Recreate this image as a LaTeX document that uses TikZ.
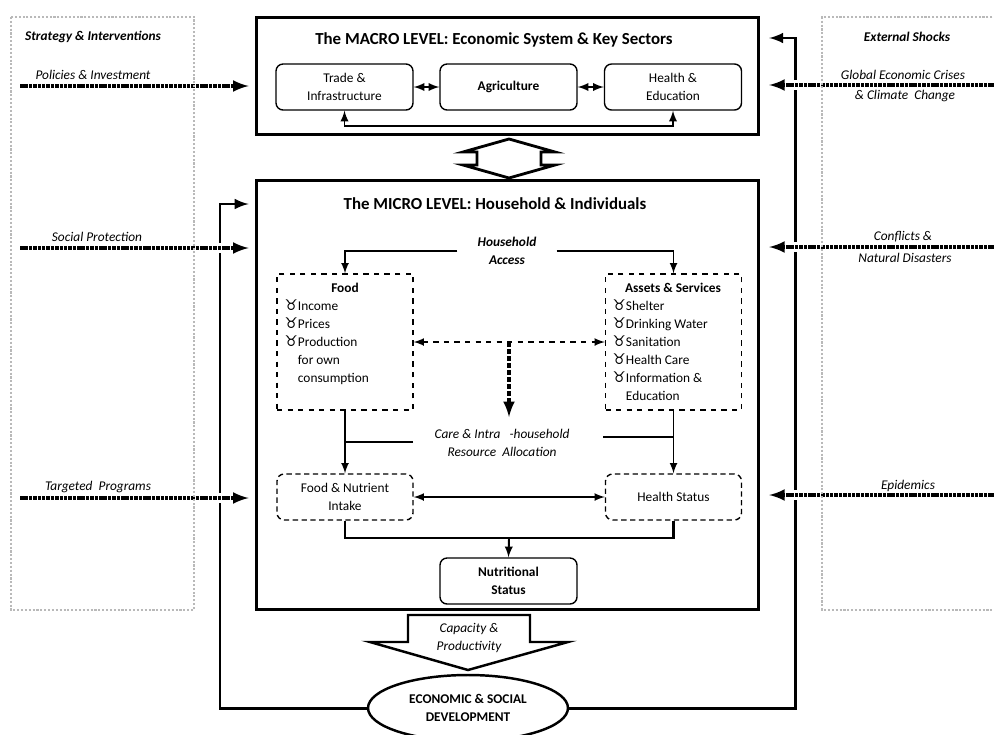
\documentclass[tikz,border=0pt]{standalone}
\usepackage{fontspec}
\setmainfont{Carlito}
\newfontfamily\symfont{DejaVu Sans}
\usepackage{tikz}
\usetikzlibrary{arrows, positioning, calc, shapes}
\newcommand{\titlefont}{\fontsize{9.6}{11}\selectfont\bfseries}
\newcommand{\bodyfont}{\fontsize{7.6}{10.2}\selectfont}
\newcommand{\labelfont}{\fontsize{7.6}{10.6}\selectfont\itshape}
\newcommand{\taurbul}{{\symfont\fontsize{8.4}{10.2}\selectfont\char"2649}}
\tikzstyle{levelbox} = [draw, line width=1.7pt, minimum width=10.06cm]
\tikzstyle{sector} = [draw, rounded corners=4pt, minimum width=2.74cm, minimum height=0.92cm, align=center, font=\bodyfont]
\tikzstyle{listbox} = [draw, dashed, minimum width=2.72cm, minimum height=2.72cm]
\tikzstyle{outcome} = [draw, densely dashed, rounded corners=4pt, minimum width=2.72cm, minimum height=0.92cm, align=center, font=\bodyfont]
\tikzstyle{policy} = [line width=2pt, dash pattern=on 2pt off 0.5pt, preaction={draw=white, line width=6pt, -, solid}]
\tikzstyle{lbl} = [font=\labelfont, inner sep=1pt]
\tikzstyle{panel} = [draw=gray!55, line width=1.2pt, densely dotted]

\begin{document}
\begin{tikzpicture}[x=0.02cm, y=-0.02cm, >=latex, thick]

    \useasboundingbox (0,0) rectangle (994,734);
    \fill [white] (0,0) rectangle (994,734);

    % The macro level
    \node (macro) [levelbox, minimum height=2.36cm] at (507.5,76) {};
    \node (macrotitle) [font=\titlefont] at (494,40) {The MACRO LEVEL: Economic System \& Key Sectors};
    \node (trade) [sector] at (344.5,87) {Trade \&\\Infrastructure};
    \node (agri) [sector] at (508.5,87) {\textbf{Agriculture}};
    \node (health) [sector] at (673,87) {Health \&\\Education};
    \coordinate (mbend) at (509,126);
    \draw [<->, line width=1.1pt] (trade) -- (agri);
    \draw [<->, line width=1.1pt] (agri) -- (health);
    \draw [<->, line width=1.1pt] (trade.south) |- (mbend) -| (health.south);

    % Link between the two levels
    \draw [line width=1.6pt, line join=miter] (509,139) -- (555,152) -- (541,152) -- (541,165) -- (555,165)
        -- (509,178) -- (463,165) -- (477,165) -- (477,152) -- (463,152) -- cycle;

    % The micro level
    \node (micro) [levelbox, minimum height=8.6cm] at (507.5,395) {};
    \node (microtitle) [font=\titlefont] at (495,204) {The MICRO LEVEL: Household \& Individuals};
    \node (access) [font=\labelfont\bfseries, align=center, minimum width=1.96cm, inner sep=0pt] at (507,251) {Household\\Access};
    \node (food) [listbox] at (345,342) {};
    \node (assets) [listbox] at (673.5,342) {};
    \draw [->, line width=1pt] (access.west) -| (food.north);
    \draw [->, line width=1pt] (access.east) -| (assets.north);

    \node (foodhead) [font=\bodyfont\bfseries] at (345,288) {Food};
    \node (foodlist) [anchor=north west, align=left, font=\bodyfont, inner sep=0pt] at (284,299)
        {\taurbul Income\\\taurbul Prices\\\taurbul Production\\\hphantom{\taurbul}for own\\\hphantom{\taurbul}consumption};
    \node (assetshead) [font=\bodyfont\bfseries] at (673,288) {Assets \& Services};
    \node (assetslist) [anchor=north west, align=left, font=\bodyfont, inner sep=0pt] at (612,299)
        {\taurbul Shelter\\\taurbul Drinking Water\\\taurbul Sanitation\\\taurbul Health Care\\\taurbul Information \&\\\hphantom{\taurbul}Education};

    % Care and intra-household allocation
    \coordinate (cmid) at (509,342);
    \coordinate (ctop) at (509,417);
    \draw [<->, dashed, line width=1pt] (food) -- (assets);
    \draw [->, line width=2pt, dash pattern=on 3pt off 1pt] (cmid) -- (ctop);
    \node (care) [font=\labelfont, align=center] at (502,443) {Care \& Intra\ \ \ -household\\Resource\ \ Allocation};

    \node (intake) [outcome] at (345,497) {Food \& Nutrient\\Intake};
    \node (hstatus) [outcome] at (673.5,497) {Health Status};
    \draw [->, line width=1pt] (food) -- (intake);
    \draw [->, line width=1pt] (assets) -- (hstatus);
    \coordinate (carel) at (413,442);
    \coordinate (carer) at (603,437);
    \draw [line width=0.8pt] (carel) -- (carel -| food.south);
    \draw [line width=0.8pt] (carer) -- (carer -| assets.south);
    \draw [<->, line width=1pt] (intake) -- (hstatus);

    \node (nutri) [sector] at (508.5,581) {\textbf{Nutritional}\\\textbf{Status}};
    \coordinate (nbend) at (509,538);
    \draw [line width=1.5pt] (intake.south) |- (nbend) -| (hstatus.south);
    \draw [->, line width=1.1pt] (nbend) -- (nutri.north);

    % Capacity and development
    \draw [line width=1.4pt, line join=miter] (408,615) -- (530,615) -- (530,642) -- (568,642) -- (468,670)
        -- (370,642) -- (408,642) -- cycle;
    \node (capacity) [font=\labelfont, align=center] at (469,638) {Capacity \&\\Productivity};
    \node (devel) [draw, ellipse, line width=1.4pt, minimum width=4cm, minimum height=1.32cm, font=\bodyfont\bfseries, align=center] at (468,708) {ECONOMIC \& SOCIAL\\DEVELOPMENT};

    % Feedback loop
    \coordinate (loopl) at (220,204);
    \coordinate (loopr) at (795,38);
    \draw [->, line width=1.7pt, shorten >=3.4pt] (devel.west) -| (loopl) -- (loopl -| micro.west);
    \draw [->, line width=1.7pt, shorten >=5pt] (devel.east) -| (loopr) -- (loopr -| macro.east);

    % Strategy and interventions
    \node (stratttl) [font=\labelfont\bfseries] at (93,37) {Strategy \& Interventions};
    \coordinate (polstart) at (20,86);
    \coordinate (socstart) at (20,248);
    \coordinate (tarstart) at (20,498);
    \draw [policy, ->, shorten >=3.4pt] (polstart) -- (polstart -| macro.west);
    \draw [policy, ->, shorten >=3.4pt] (socstart) -- (socstart -| micro.west);
    \draw [policy, ->, shorten >=3.4pt] (tarstart) -- (tarstart -| micro.west);
    \node (pollbl) [lbl] at (93,75) {Policies \& Investment};
    \node (soclbl) [lbl] at (97,237) {Social Protection};
    \node (tarlbl) [lbl] at (98,487) {Targeted\ \ Programs};

    % External shocks
    \node (shockttl) [font=\labelfont\bfseries] at (907,37) {External Shocks};
    \coordinate (crisstart) at (996,85);
    \coordinate (confstart) at (996,247);
    \coordinate (epistart) at (996,495);
    \draw [policy, ->, shorten >=5pt] (crisstart) -- (crisstart -| macro.east);
    \draw [policy, ->, shorten >=5pt] (confstart) -- (confstart -| micro.east);
    \draw [policy, ->, shorten >=5pt] (epistart) -- (epistart -| micro.east);
    \node (crislbl) [lbl] at (903,75) {Global Economic Crises};
    \node (climlbl) [lbl] at (905,96) {\& Climate\ \ Change};
    \node (conflbl) [lbl] at (903,237) {Conflicts \&};
    \node (natlbl) [lbl] at (905,258) {Natural Disasters};
    \node (epilbl) [lbl] at (908,486) {Epidemics};

    % Side panels
    \draw [panel] (11,17) rectangle (194,610);
    \draw [panel] (1000,17) -| (822,610) -- (1000,610);

\end{tikzpicture}
\end{document}
